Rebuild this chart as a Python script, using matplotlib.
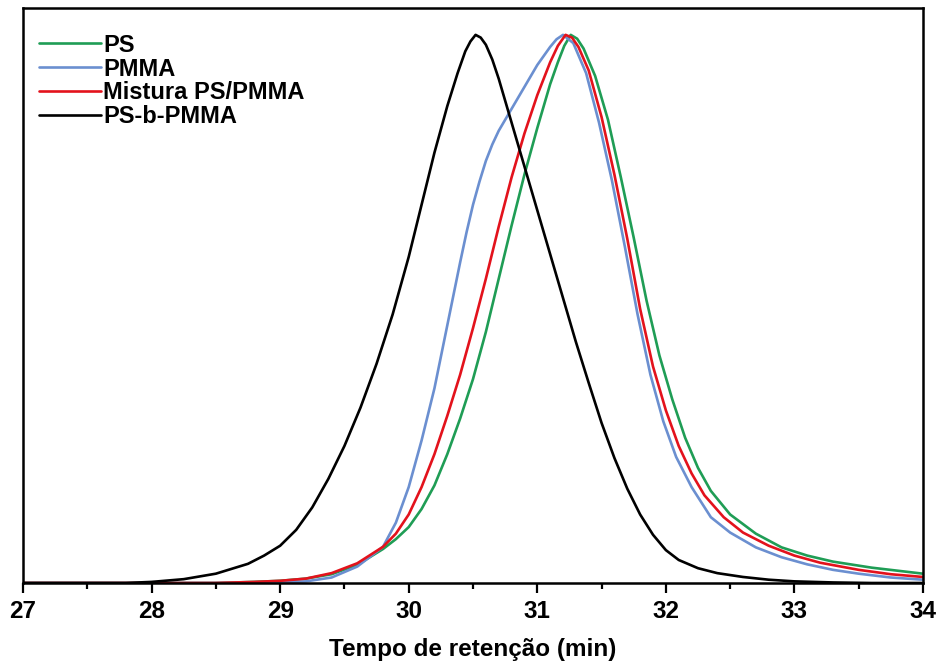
import matplotlib
matplotlib.use("Agg")
import matplotlib.pyplot as plt
from matplotlib.ticker import MultipleLocator, NullLocator

# Retention time (min) and normalised detector signal
ps_t = [27.0, 28.5, 28.8, 29.0, 29.2, 29.4, 29.6, 29.8, 29.9, 30.0, 30.1, 30.2,
        30.3, 30.4, 30.5, 30.6, 30.7, 30.8, 30.9, 31.0, 31.1, 31.16, 31.21,
        31.26, 31.31, 31.36, 31.45, 31.55, 31.65, 31.75, 31.85, 31.95, 32.05,
        32.15, 32.25, 32.35, 32.5, 32.7, 32.9, 33.1, 33.3, 33.6, 34.0]
ps_v = [0.0, 0.0, 0.002, 0.004, 0.008, 0.016, 0.033, 0.062, 0.08, 0.102, 0.135,
        0.178, 0.235, 0.3, 0.372, 0.458, 0.555, 0.652, 0.745, 0.83, 0.91, 0.95,
        0.98, 1.0, 0.993, 0.975, 0.925, 0.845, 0.74, 0.63, 0.515, 0.415, 0.335,
        0.265, 0.21, 0.168, 0.125, 0.09, 0.065, 0.05, 0.039, 0.028, 0.017]

pmma_t = [27.0, 28.5, 29.0, 29.2, 29.4, 29.6, 29.8, 29.9, 30.0, 30.1, 30.2,
          30.3, 30.4, 30.45, 30.5, 30.55, 30.6, 30.65, 30.7, 30.8, 30.9, 31.0,
          31.1, 31.15, 31.2, 31.28, 31.38, 31.48, 31.58, 31.68, 31.78, 31.88,
          31.98, 32.08, 32.2, 32.35, 32.5, 32.7, 32.9, 33.1, 33.3, 33.5, 33.75,
          34.0]
pmma_v = [0.0, 0.0, 0.001, 0.003, 0.01, 0.03, 0.066, 0.11, 0.175, 0.26, 0.355,
          0.47, 0.585, 0.64, 0.69, 0.732, 0.77, 0.8, 0.825, 0.865, 0.905, 0.945,
          0.978, 0.992, 1.0, 0.985, 0.93, 0.84, 0.735, 0.615, 0.49, 0.38,
          0.295, 0.23, 0.175, 0.12, 0.092, 0.065, 0.047, 0.034, 0.024, 0.017,
          0.01, 0.006]

mix_t = [27.0, 28.5, 28.8, 29.0, 29.2, 29.4, 29.6, 29.8, 29.9, 30.0, 30.1,
         30.2, 30.3, 30.4, 30.5, 30.6, 30.7, 30.8, 30.9, 31.0, 31.1, 31.16,
         31.22, 31.27, 31.32, 31.4, 31.5, 31.6, 31.7, 31.8, 31.9, 32.0, 32.1,
         32.2, 32.3, 32.45, 32.6, 32.8, 33.0, 33.2, 33.5, 33.75, 34.0]
mix_v = [0.0, 0.0, 0.002, 0.004, 0.008, 0.018, 0.036, 0.066, 0.09, 0.125, 0.175,
         0.235, 0.305, 0.38, 0.465, 0.555, 0.65, 0.74, 0.82, 0.89, 0.95, 0.98,
         1.0, 0.995, 0.978, 0.935, 0.85, 0.745, 0.628, 0.5, 0.395, 0.315, 0.25,
         0.2, 0.16, 0.12, 0.092, 0.068, 0.05, 0.037, 0.024, 0.016, 0.011]

block_t = [27.0, 27.8, 28.0, 28.25, 28.5, 28.75, 28.875, 29.0, 29.125, 29.25,
           29.375, 29.5, 29.625, 29.75, 29.875, 30.0, 30.1, 30.2, 30.3, 30.38,
           30.44, 30.48, 30.52, 30.56, 30.6, 30.65, 30.7, 30.8, 30.9, 31.0,
           31.1, 31.2, 31.3, 31.4, 31.5, 31.6, 31.7, 31.8, 31.9, 32.0, 32.1,
           32.25, 32.4, 32.6, 32.8, 33.0, 33.3, 33.6, 34.0]
block_v = [0.0, 0.0, 0.002, 0.007, 0.017, 0.035, 0.05, 0.068, 0.097, 0.138,
           0.19, 0.25, 0.32, 0.4, 0.49, 0.595, 0.69, 0.785, 0.87, 0.93,
           0.97, 0.988, 1.0, 0.995, 0.982, 0.955, 0.92, 0.84, 0.76, 0.68,
           0.6, 0.52, 0.44, 0.365, 0.292, 0.228, 0.172, 0.125, 0.088, 0.06,
           0.042, 0.027, 0.018, 0.011, 0.006, 0.003, 0.001, 0.0, 0.0]

labels = ["PS", "PMMA", "Mistura PS/PMMA", "PS-b-PMMA"]
colors = ["#1f9d55", "#6b8fd0", "#e3121c", "#000000"]

plt.rcParams["font.family"] = ["Liberation Sans", "DejaVu Sans"]
plt.rcParams["font.weight"] = "bold"

fig = plt.figure(figsize=(9.43, 6.66), dpi=100)
ax = fig.add_axes([23 / 943, 1 - 583 / 666, 900 / 943, 575 / 666])

series = [(ps_t, ps_v), (pmma_t, pmma_v), (mix_t, mix_v), (block_t, block_v)]
for (t, v), lab, col in zip(series, labels, colors):
    ax.plot(t, v, color=col, lw=1.9, label=lab,
            solid_capstyle="round", solid_joinstyle="round")

ax.set_xlim(27, 34)
ax.set_ylim(0, 1.049)
ax.xaxis.set_major_locator(MultipleLocator(1))
ax.xaxis.set_minor_locator(MultipleLocator(0.5))
ax.yaxis.set_major_locator(NullLocator())
ax.tick_params(axis="x", which="major", direction="out", length=7, width=1.6,
               labelsize=17.5, pad=5)
ax.tick_params(axis="x", which="minor", direction="out", length=4, width=1.6)
for lbl in ax.get_xticklabels():
    lbl.set_fontweight("bold")
for sp in ax.spines.values():
    sp.set_linewidth(1.8)

ax.set_xlabel("Tempo de retenção (min)", fontsize=17.5, fontweight="bold",
              labelpad=11)

ax.legend(loc="upper left", bbox_to_anchor=(0.005, 0.976), frameon=False,
          borderpad=0, handlelength=2.6, handletextpad=0.1, labelspacing=0.04,
          prop={"size": 17, "weight": "bold"})

fig.savefig("out.png", dpi=100)
